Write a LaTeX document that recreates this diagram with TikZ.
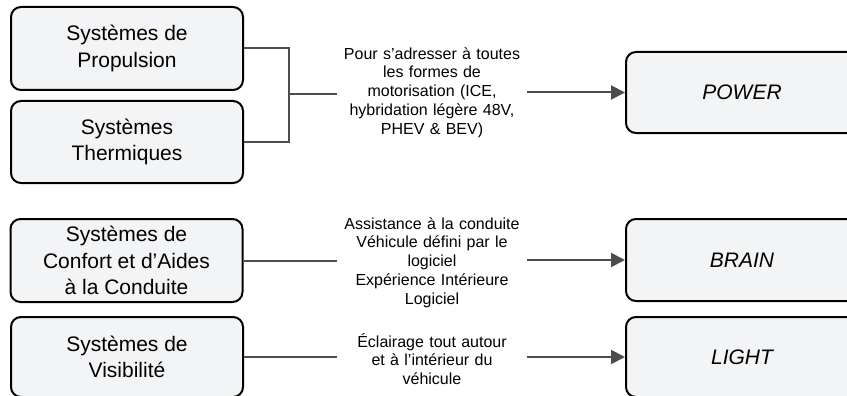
\documentclass[tikz,border=0pt]{standalone}
\usepackage{fontspec}
\setmainfont{Liberation Sans}
\usetikzlibrary{arrows.meta}
\definecolor{boxfill}{HTML}{F3F4F6}
\definecolor{conn}{HTML}{4D4D4D}
\begin{document}
\begin{tikzpicture}[x=1pt,y=-1pt,
  sysbox/.style={draw=black,line width=2pt,fill=boxfill,rounded corners=10pt,
    minimum width=232pt,inner sep=0pt,align=center,font=\fontsize{21}{26.5}\selectfont},
  outbox/.style={sysbox,font=\fontsize{21}{26.5}\selectfont\itshape},
  midtext/.style={text width=180pt,inner sep=5pt,align=center,font=\fontsize{16}{18.8}\selectfont},
  conline/.style={draw=conn,line width=2pt},
  arr/.style={conline,-{Triangle[length=14pt,width=14pt]}}]
\useasboundingbox (0,0) rectangle (847,396);
% left boxes
\node[sysbox,minimum height=83pt] (b1) at (127,48.5) {Systèmes de\\Propulsion};
\node[sysbox,minimum height=82pt] (b2) at (127,142) {Systèmes\\Thermiques};
\node[sysbox,minimum height=83pt] (b3) at (126.5,260.5) {Systèmes de\\Confort et d’Aides\\à la Conduite};
\node[sysbox,minimum height=80pt] (b4) at (127,357) {Systèmes de\\Visibilité};
% right boxes
\node[outbox,minimum height=81pt] (p) at (742,92.5) {POWER};
\node[outbox,minimum height=82pt] (br) at (742,260) {BRAIN};
\node[outbox,minimum height=80pt] (l) at (742,357) {LIGHT};
% middle texts
\node[midtext] (m1) at (432,92.5) {Pour s’adresser à toutes\\les formes de\\motorisation (ICE,\\hybridation légère 48V,\\PHEV \& BEV)};
\node[midtext] (m2) at (432,262.5) {Assistance à la conduite\\Véhicule défini par le\\logiciel\\Expérience Intérieure\\Logiciel};
\node[midtext] (m3) at (432,359) {Éclairage tout autour\\et à l’intérieur du\\véhicule};
% connectors
\coordinate (j) at (289,94.5);
\draw[conline] (b1.east) -| (j) |- (b2.east);
\draw[conline] (j) -- (j -| m1.west);
\draw[arr] (m1.east |- p.west) -- (p.west);
\draw[conline] (b3.east) -- (b3.east -| m2.west);
\draw[arr] (m2.east |- br.west) -- (br.west);
\draw[conline] (b4.east) -- (b4.east -| m3.west);
\draw[arr] (m3.east |- l.west) -- (l.west);
\end{tikzpicture}
\end{document}
